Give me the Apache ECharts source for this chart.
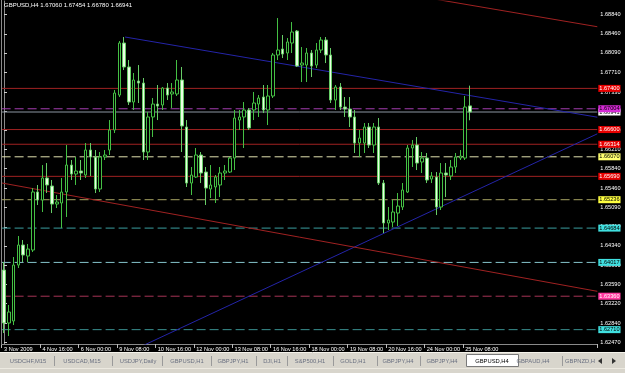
<!DOCTYPE html>
<html><head><meta charset="utf-8">
<script src="https://cdn.jsdelivr.net/npm/echarts@6/dist/echarts.min.js"></script>
<style>html,body{margin:0;padding:0;background:#000;}#c{width:625px;height:373px;}</style>
</head><body><div id="c"></div>
<script>
const symbol = 'GBPUSD,H4';
const times = [
'2009.11.03 08:00','2009.11.03 12:00','2009.11.03 16:00','2009.11.03 20:00',
'2009.11.04 00:00','2009.11.04 04:00','2009.11.04 08:00','2009.11.04 12:00','2009.11.04 16:00','2009.11.04 20:00',
'2009.11.05 00:00','2009.11.05 04:00','2009.11.05 08:00','2009.11.05 12:00','2009.11.05 16:00','2009.11.05 20:00',
'2009.11.06 00:00','2009.11.06 04:00','2009.11.06 08:00','2009.11.06 12:00','2009.11.06 16:00','2009.11.06 20:00',
'2009.11.09 00:00','2009.11.09 04:00','2009.11.09 08:00','2009.11.09 12:00','2009.11.09 16:00','2009.11.09 20:00',
'2009.11.10 00:00','2009.11.10 04:00','2009.11.10 08:00','2009.11.10 12:00','2009.11.10 16:00','2009.11.10 20:00',
'2009.11.11 00:00','2009.11.11 04:00','2009.11.11 08:00','2009.11.11 12:00','2009.11.11 16:00','2009.11.11 20:00',
'2009.11.12 00:00','2009.11.12 04:00','2009.11.12 08:00','2009.11.12 12:00','2009.11.12 16:00','2009.11.12 20:00',
'2009.11.13 00:00','2009.11.13 04:00','2009.11.13 08:00','2009.11.13 12:00','2009.11.13 16:00','2009.11.13 20:00',
'2009.11.16 00:00','2009.11.16 04:00','2009.11.16 08:00','2009.11.16 12:00','2009.11.16 16:00','2009.11.16 20:00',
'2009.11.17 00:00','2009.11.17 04:00','2009.11.17 08:00','2009.11.17 12:00','2009.11.17 16:00','2009.11.17 20:00',
'2009.11.18 00:00','2009.11.18 04:00','2009.11.18 08:00','2009.11.18 12:00','2009.11.18 16:00','2009.11.18 20:00',
'2009.11.19 00:00','2009.11.19 04:00','2009.11.19 08:00','2009.11.19 12:00','2009.11.19 16:00','2009.11.19 20:00',
'2009.11.20 00:00','2009.11.20 04:00','2009.11.20 08:00','2009.11.20 12:00','2009.11.20 16:00','2009.11.20 20:00',
'2009.11.23 00:00','2009.11.23 04:00','2009.11.23 08:00','2009.11.23 12:00','2009.11.23 16:00','2009.11.23 20:00',
'2009.11.24 00:00','2009.11.24 04:00','2009.11.24 08:00','2009.11.24 12:00','2009.11.24 16:00','2009.11.24 20:00',
'2009.11.25 00:00','2009.11.25 04:00','2009.11.25 08:00','2009.11.25 12:00'
];
const futureSlots = 26;
const open = [
1.63869,1.62839,1.62878,1.63966,1.64355,1.64141,1.64258,1.65386,1.65230,1.65658,
1.65502,1.65152,1.65172,1.65386,1.65910,1.65735,1.65794,1.65716,1.66202,1.66066,
1.65444,1.66066,1.66202,1.66591,1.67271,1.68282,1.67816,1.67135,1.67543,1.67504,
1.66163,1.66844,1.67096,1.67077,1.67407,1.67291,1.67291,1.67563,1.66649,1.65560,
1.65677,1.66105,1.65774,1.65444,1.65483,1.65522,1.65755,1.65774,1.66046,1.66785,
1.66844,1.66980,1.66980,1.67096,1.67232,1.66980,1.67252,1.68049,1.68165,1.68088,
1.68282,1.68515,1.67854,1.67854,1.68088,1.67854,1.68146,1.68340,1.68049,1.67174,
1.67427,1.67038,1.66999,1.66844,1.66338,1.66338,1.66649,1.66299,1.66649,1.65560,
1.64783,1.64802,1.64977,1.65094,1.65386,1.66241,1.66299,1.65969,1.66046,1.65638,
1.65677,1.65094,1.65755,1.65697,1.65872,1.66046,1.66046,1.67060];
const close = [
1.62839,1.63053,1.63966,1.64355,1.64161,1.64277,1.65386,1.65230,1.65658,1.65522,
1.65152,1.65191,1.65386,1.65910,1.65735,1.65794,1.65755,1.66202,1.66066,1.65444,
1.66066,1.66105,1.66591,1.67310,1.68282,1.67816,1.67135,1.67563,1.67504,1.66163,
1.66844,1.67096,1.67057,1.67407,1.67271,1.67330,1.67563,1.66669,1.65560,1.65716,
1.66105,1.65755,1.65463,1.65522,1.65677,1.65755,1.65794,1.66046,1.66824,1.66844,
1.66980,1.66630,1.67116,1.67213,1.66980,1.67252,1.68049,1.68146,1.68068,1.68302,
1.68496,1.67835,1.67893,1.68088,1.67835,1.68146,1.68340,1.68049,1.67174,1.67427,
1.67038,1.66999,1.66844,1.66338,1.66435,1.66649,1.66299,1.66649,1.65560,1.64783,
1.64841,1.64997,1.65113,1.65424,1.66241,1.66299,1.65949,1.66046,1.65619,1.65697,
1.65094,1.65755,1.65716,1.65872,1.66066,1.66085,1.67038,1.66941];
const low = [
1.62644,1.62586,1.62800,1.63908,1.64025,1.64025,1.64219,1.65133,1.64997,1.65366,
1.64977,1.65074,1.64686,1.64900,1.65619,1.65522,1.65619,1.65658,1.65697,1.65366,
1.65386,1.66008,1.66105,1.66532,1.67232,1.67757,1.67077,1.66980,1.67116,1.66008,
1.66008,1.66455,1.66785,1.66980,1.67174,1.67018,1.67252,1.66163,1.65483,1.65327,
1.65658,1.65560,1.65133,1.65269,1.65172,1.65288,1.65619,1.65755,1.65813,1.66591,
1.66241,1.66591,1.66785,1.66844,1.66921,1.66688,1.67213,1.67952,1.67990,1.67952,
1.68088,1.67816,1.67524,1.67524,1.67621,1.67796,1.68088,1.67893,1.67116,1.66980,
1.66980,1.66844,1.66649,1.66144,1.66066,1.66144,1.66241,1.66144,1.65522,1.64588,
1.64647,1.64705,1.64725,1.65036,1.65366,1.65872,1.65813,1.65755,1.65560,1.65560,
1.64938,1.65036,1.65288,1.65619,1.65755,1.66008,1.66008,1.66780];
const high = [
1.64025,1.63189,1.64122,1.64530,1.64452,1.64375,1.65463,1.65522,1.65910,1.65949,
1.65619,1.65327,1.65658,1.66299,1.66008,1.66066,1.66008,1.66338,1.66338,1.66202,
1.66163,1.66202,1.66785,1.67368,1.68321,1.68399,1.67952,1.67699,1.67854,1.67602,
1.66941,1.67213,1.67466,1.67427,1.67504,1.67504,1.67952,1.67816,1.66785,1.65872,
1.66241,1.66163,1.65872,1.65910,1.65716,1.65872,1.65910,1.66066,1.66980,1.66980,
1.67135,1.67018,1.67330,1.67271,1.67466,1.67466,1.68088,1.68768,1.68438,1.68379,
1.68690,1.68535,1.68204,1.68185,1.68146,1.68282,1.68399,1.68399,1.68185,1.67466,
1.67504,1.67232,1.67232,1.66980,1.66591,1.66727,1.66727,1.66727,1.66824,1.65619,
1.65094,1.65230,1.65366,1.65560,1.66299,1.66396,1.66455,1.66163,1.66144,1.65774,
1.65774,1.65949,1.65949,1.66008,1.66144,1.66202,1.67252,1.67454];

const timeTickIndex = [0,8,16,24,32,40,48,56,64,72,80,88,96];
const timeTickLabels = ['3 Nov 2009','4 Nov 16:00','6 Nov 00:00','9 Nov 08:00','10 Nov 16:00','12 Nov 00:00','13 Nov 08:00','16 Nov 16:00','18 Nov 00:00','19 Nov 08:00','20 Nov 16:00','24 Nov 00:00','25 Nov 08:00'];
const priceTicks = [1.68840,1.68460,1.68090,1.67710,1.67330,1.66950,1.66580,1.66210,1.65840,1.65460,1.65090,1.64710,1.64340,1.63960,1.63590,1.63220,1.62840,1.62470];
const priceMin = 1.62431, priceMax = 1.69099;

// horizontal price levels (bid line first so other labels draw over it)
const levelValues = [1.66941,1.67400,1.67004,1.66600,1.66314,1.66070,1.65690,1.65236,1.64684,1.64017,1.63360,1.62710];
// trend lines: [barIndex, price] pairs
const trendBlueDown = [[25.2,1.68399],[123.5,1.66840]];
const trendBlueUp = [[20,1.62011],[123.5,1.66517]];
const trendRedLow = [[-0.5,1.65562],[123.5,1.63455]];
const trendRedHigh = [[85,1.69210],[123.5,1.68599]];

const tabNames = ['USDCHF,M15','USDCAD,M15','USDJPY,Daily','GBPUSD,H1','GBPJPY,H1','DJI,H1','S&P500,H1','GOLD,H1','GBPJPY,H4','GBPJPY,H4','GBPUSD,H4','GBPAUD,H4','GBPNZD,H'];
const activeTab = 10;

// ---- styles (not data) ----
const levelStyles = [
 {line:'#8c96a2', dash:'solid', box:'#ffffff', txt:'#000000'},
 {line:'#a02222', dash:'solid', box:'#e80000', txt:'#ffffff'},
 {line:'#a43cb0', dash:[9,4], box:'#d62ad6', txt:'#000000'},
 {line:'#a02222', dash:'solid', box:'#e80000', txt:'#ffffff'},
 {line:'#a02222', dash:'solid', box:'#e80000', txt:'#ffffff'},
 {line:'#e2e2b0', dash:[9,4], box:'#ffff70', txt:'#000000'},
 {line:'#a02222', dash:'solid', box:'#e80000', txt:'#ffffff'},
 {line:'#a8a462', dash:[9,4], box:'#ffff40', txt:'#000000'},
 {line:'#3a9ea0', dash:[9,4], box:'#40e0e0', txt:'#000000'},
 {line:'#86c4cc', dash:[9,4], box:'#40e0e0', txt:'#000000'},
 {line:'#a63456', dash:[9,4], box:'#ff3aa0', txt:'#ffffff'},
 {line:'#3a9090', dash:[9,4], box:'#40e0e0', txt:'#000000'}
];
const tabCenters = [28,82,138,187,233,272,310,353,398,442,492,533,580];
const tabSeps = [54,112,162,211,256,287,333,377,420,562];

const font = 'Liberation Sans, Arial, sans-serif';
const N = times.length + futureSlots;
const cats = times.concat(Array.from({length: futureSlots}, (_, k) => 'f' + k));
const ohlc = times.map((t, i) => [open[i], close[i], low[i], high[i]]);
const last = times.length - 1;
const grid = {left: 1.6, top: 1, width: 595.7, height: 343};

const chart = echarts.init(document.getElementById('c'), null, {renderer: 'canvas'});
const trendSeries = (data, color) => ({
  type: 'line', xAxisIndex: 1, yAxisIndex: 0, data: data, symbol: 'none', silent: true,
  lineStyle: {color: color, width: 1}, clip: true, z: 3, animation: false
});
const levelSeries = levelValues.map((v, i) => ({
  type: 'line', xAxisIndex: 1, yAxisIndex: 0, data: [[-0.5, v], [N - 0.5, v]],
  symbol: 'none', silent: true, animation: false, z: 2 + i * 0.01,
  lineStyle: {color: levelStyles[i].line, type: levelStyles[i].dash, width: 1},
  endLabel: {show: true, distance: 1, formatter: () => v.toFixed(5),
    backgroundColor: levelStyles[i].box, color: levelStyles[i].txt,
    fontSize: 5.6, fontFamily: font, padding: [1, 1, 0, 1]}
}));

const graphics = [
  {type: 'rect', shape: {x: 0, y: 352.5, width: 625, height: 21}, style: {fill: '#d8d5cc'}, z: 100},
  {type: 'line', shape: {x1: 0, y1: 352.5, x2: 625, y2: 352.5}, style: {stroke: '#f4f2ea', lineWidth: 1}, z: 101},
  {type: 'line', shape: {x1: 0, y1: 368.5, x2: 625, y2: 368.5}, style: {stroke: '#ece9e0', lineWidth: 1}, z: 101},
  {type: 'rect', shape: {x: 466.5, y: 354.5, width: 52, height: 12}, style: {fill: '#ffffff', stroke: '#7a7a7a', lineWidth: 1}, z: 101},
  {type: 'line', shape: {x1: 1.5, y1: 0, x2: 1.5, y2: 345}, style: {stroke: '#8a8a8a', lineWidth: 1}, z: 50},
  {type: 'polygon', shape: {points: [[598,361],[602,358],[602,364]]}, style: {fill: '#333'}, z: 102},
  {type: 'polygon', shape: {points: [[616,361],[612,358],[612,364]]}, style: {fill: '#333'}, z: 102}
];
tabNames.forEach((n, i) => {
  graphics.push({type: 'text', x: tabCenters[i], y: 361, z: 102,
    style: {text: n, font: '5.8px ' + font, fill: i === activeTab ? '#000000' : '#6a7080', textAlign: 'center', textVerticalAlign: 'middle'}});
});
tabSeps.forEach(x => {
  graphics.push({type: 'line', shape: {x1: x + 0.5, y1: 356, x2: x + 0.5, y2: 366}, style: {stroke: '#9a9a9a', lineWidth: 1}, z: 102});
});

chart.setOption({
  backgroundColor: '#000000',
  animation: false,
  title: {
    text: symbol + ' ' + [open[last], high[last], low[last], close[last]].map(v => v.toFixed(5)).join(' '),
    left: 4, top: 2, padding: 0,
    textStyle: {color: '#ffffff', fontSize: 6, fontWeight: 'normal', fontFamily: font}
  },
  grid: grid,
  xAxis: [{
    type: 'category', data: cats, boundaryGap: true,
    axisLine: {show: true, lineStyle: {color: '#8a8a8a', width: 1}},
    axisTick: {show: true, length: 4, interval: (idx) => timeTickIndex.includes(idx), lineStyle: {color: '#bbbbbb'}},
    axisLabel: {
      interval: (idx) => timeTickIndex.includes(idx),
      formatter: (v, idx) => { const k = timeTickIndex.indexOf(idx); return k >= 0 ? timeTickLabels[k] : ''; },
      color: '#ffffff', fontSize: 5.6, fontFamily: font, align: 'left', margin: 2, hideOverlap: false
    },
    splitLine: {show: false}
  }, {
    type: 'value', min: -0.5, max: N - 0.5, show: false, gridIndex: 0
  }],
  yAxis: [{
    type: 'value', position: 'right', min: priceMin, max: priceMax, scale: true,
    axisLine: {show: true, lineStyle: {color: '#8a8a8a', width: 1}},
    axisTick: {show: true, length: 3, customValues: priceTicks, lineStyle: {color: '#cccccc'}},
    axisLabel: {customValues: priceTicks, formatter: v => v.toFixed(5), color: '#ffffff', fontSize: 5.6, fontFamily: font, margin: 3, showMinLabel: true, showMaxLabel: true},
    splitLine: {show: false}
  }],
  graphic: graphics,
  series: [
    {
      type: 'candlestick', xAxisIndex: 0, yAxisIndex: 0, data: ohlc, barWidth: 3,
      itemStyle: {color: '#000000', color0: '#eaffe4', borderColor: '#44c044', borderColor0: '#66cc66', borderWidth: 1},
      z: 5
    },
    trendSeries(trendBlueDown, '#2424a8'),
    trendSeries(trendBlueUp, '#2424a8'),
    trendSeries(trendRedLow, '#a02222'),
    trendSeries(trendRedHigh, '#a02222')
  ].concat(levelSeries)
});
</script>
</body></html>
